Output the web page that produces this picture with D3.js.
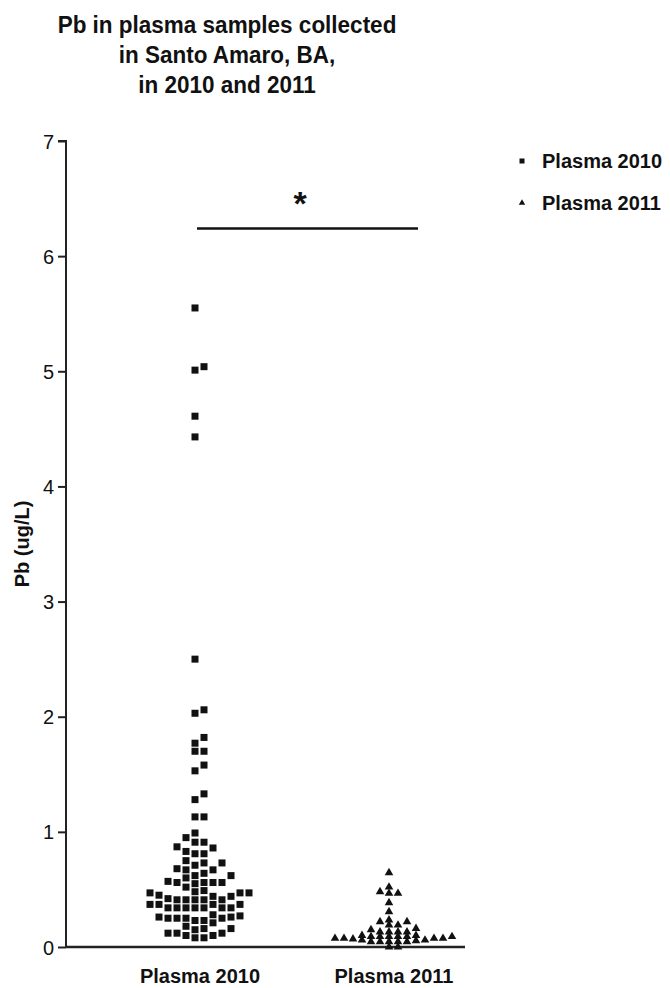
<!DOCTYPE html>
<html>
<head>
<meta charset="utf-8">
<script src="https://cdn.jsdelivr.net/npm/d3@7"></script>
<style>
  html, body { margin: 0; padding: 0; background: #fff; }
  svg { display: block; font-family: "Liberation Sans", Arial, sans-serif; }
</style>
</head>
<body>
<svg id="chart" width="670" height="988"></svg>
<script>
// ---- data ----
const titleLines = ["Pb in plasma samples collected", "in Santo Amaro, BA,", "in 2010 and 2011"];
const categories = ["Plasma 2010", "Plasma 2011"];
const yTicks = [0, 1, 2, 3, 4, 5, 6, 7];
const yLabel = "Pb (ug/L)";
const sigMark = "*";
const sigValue = 6.24;

const plasma2010 = [
  5.55, 5.04, 5.01, 4.61, 4.43, 2.50, 2.06, 2.03, 1.82, 1.77, 1.70, 1.70,
  1.58, 1.53, 1.33, 1.28, 1.13, 1.13,
  0.47, 0.37,
  0.47, 0.37, 0.27,
  0.73, 0.56, 0.44, 0.34, 0.25, 0.21,
  0.91, 0.73, 0.56, 0.44, 0.41, 0.34, 0.25, 0.16, 0.10,
  0.87, 0.81, 0.67, 0.62, 0.56, 0.49, 0.41, 0.34, 0.25, 0.16, 0.10,
  0.95, 0.86, 0.75, 0.67, 0.60, 0.52, 0.41, 0.34, 0.23, 0.15, 0.08,
  0.99, 0.91, 0.81, 0.68, 0.62, 0.56, 0.41, 0.34, 0.23, 0.12, 0.08,
  0.83, 0.71, 0.64, 0.55, 0.41, 0.34, 0.25, 0.18, 0.12,
  0.57, 0.42, 0.34, 0.26, 0.12,
  0.45, 0.37, 0.26,
  0.47, 0.37, 0.28,
  0.48
];

const plasma2011 = [
  0.075,
  0.07,
  0.15, 0.10, 0.06,
  0.13, 0.09, 0.055,
  0.22, 0.13, 0.09, 0.045,
  0.48, 0.19, 0.09, 0.045,
  0.645, 0.466, 0.385, 0.306, 0.16, 0.10, 0.06, 0.0,
  0.52, 0.466, 0.19, 0.13, 0.09, 0.045, 0.0,
  0.22, 0.13, 0.09, 0.045,
  0.235, 0.09, 0.045,
  0.075,
  0.075,
  0.075
];

// ---- layout ----
const svg = d3.select("#chart");
const axisLeft = 66, axisRight = 465;
const y = d3.scaleLinear().domain([0, 7]).range([947, 141]);
const x = d3.scalePoint().domain(categories).range([195, 389]);
const black = "#111";
const font = "'Liberation Sans', Arial, sans-serif";

// title
svg.append("g").selectAll("text").data(titleLines).join("text")
  .attr("transform", (d, i) => `translate(227,${33 + i * 30}) scale(1,1.1)`)
  .attr("text-anchor", "middle")
  .attr("font-size", 22.5).attr("font-weight", "bold").attr("fill", black)
  .text(d => d);

// y axis
const yAxis = d3.axisLeft(y).tickValues(yTicks).tickSize(8).tickPadding(4).tickFormat(d3.format("d"));
const gy = svg.append("g").attr("transform", `translate(${axisLeft},0)`).call(yAxis);
gy.select(".domain").attr("stroke", "#222").attr("stroke-width", 2).attr("d", `M-8,${y(7)}H0V${y(0)}`);
gy.selectAll(".tick line").attr("stroke", "#222").attr("stroke-width", 2);
gy.selectAll(".tick text").attr("font-size", 20).attr("font-family", font).attr("fill", black).attr("dy", "0.35em");

// x axis line
svg.append("line").attr("x1", axisLeft).attr("x2", axisRight)
  .attr("y1", y(0)).attr("y2", y(0)).attr("stroke", "#222").attr("stroke-width", 2.5);

// x category labels
svg.append("g").selectAll("text").data(categories).join("text")
  .attr("x", d => x(d) + 5).attr("y", 983)
  .attr("text-anchor", "middle").attr("font-size", 20).attr("font-weight", "bold").attr("fill", black)
  .text(d => d);

// y label
svg.append("text").attr("transform", `translate(29,${(y(0) + y(7)) / 2}) rotate(-90)`)
  .attr("text-anchor", "middle").attr("font-size", 20).attr("font-weight", "bold").attr("fill", black)
  .text(yLabel);

// column-slot beeswarm
function swarm(values, cx, spacing, h) {
  const idx = values.map((v, i) => i).sort((a, b) => values[a] - values[b]);
  const slots = new Map();
  const out = new Array(values.length);
  const order = [0];
  for (let k = 1; k <= 20; k++) { order.push(k, -k); }
  idx.forEach(i => {
    const py = y(values[i]);
    for (const k of order) {
      const col = slots.get(k) || [];
      if (col.every(q => Math.abs(q - py) >= h)) {
        col.push(py); slots.set(k, col);
        out[i] = { x: cx + k * spacing, y: py, v: values[i] };
        break;
      }
    }
  });
  return out;
}

const sq = 7;
const pts2010 = swarm(plasma2010, x(categories[0]), 9, sq);
svg.append("g").selectAll("rect").data(pts2010).join("rect")
  .attr("x", d => d.x - sq / 2).attr("y", d => d.y - sq / 2)
  .attr("width", sq).attr("height", sq).attr("fill", black);

const tri = d3.symbol().type(d3.symbolTriangle).size(32);
const pts2011 = swarm(plasma2011, x(categories[1]), 9, 4.5);
svg.append("g").selectAll("path").data(pts2011).join("path")
  .attr("transform", d => `translate(${d.x},${d.y})`)
  .attr("d", tri).attr("fill", black);

// significance bar
svg.append("line").attr("x1", 197).attr("x2", 418)
  .attr("y1", y(sigValue)).attr("y2", y(sigValue))
  .attr("stroke", black).attr("stroke-width", 2.5);
svg.append("text").attr("x", 300).attr("y", y(sigValue) - 14)
  .attr("text-anchor", "middle").attr("font-size", 34).attr("font-weight", "bold").attr("fill", black)
  .text(sigMark);

// legend
const legend = svg.append("g").selectAll("g").data(categories).join("g")
  .attr("transform", (d, i) => `translate(522,${161 + i * 42})`);
legend.filter((d, i) => i === 0).append("rect")
  .attr("x", -2.5).attr("y", -2.5).attr("width", 5).attr("height", 5).attr("fill", black);
legend.filter((d, i) => i === 1).append("path")
  .attr("d", d3.symbol().type(d3.symbolTriangle).size(18)).attr("fill", black);
legend.append("text").attr("x", 20).attr("y", 7)
  .attr("font-size", 20).attr("font-weight", "bold").attr("fill", black)
  .text(d => d);
</script>
</body>
</html>
